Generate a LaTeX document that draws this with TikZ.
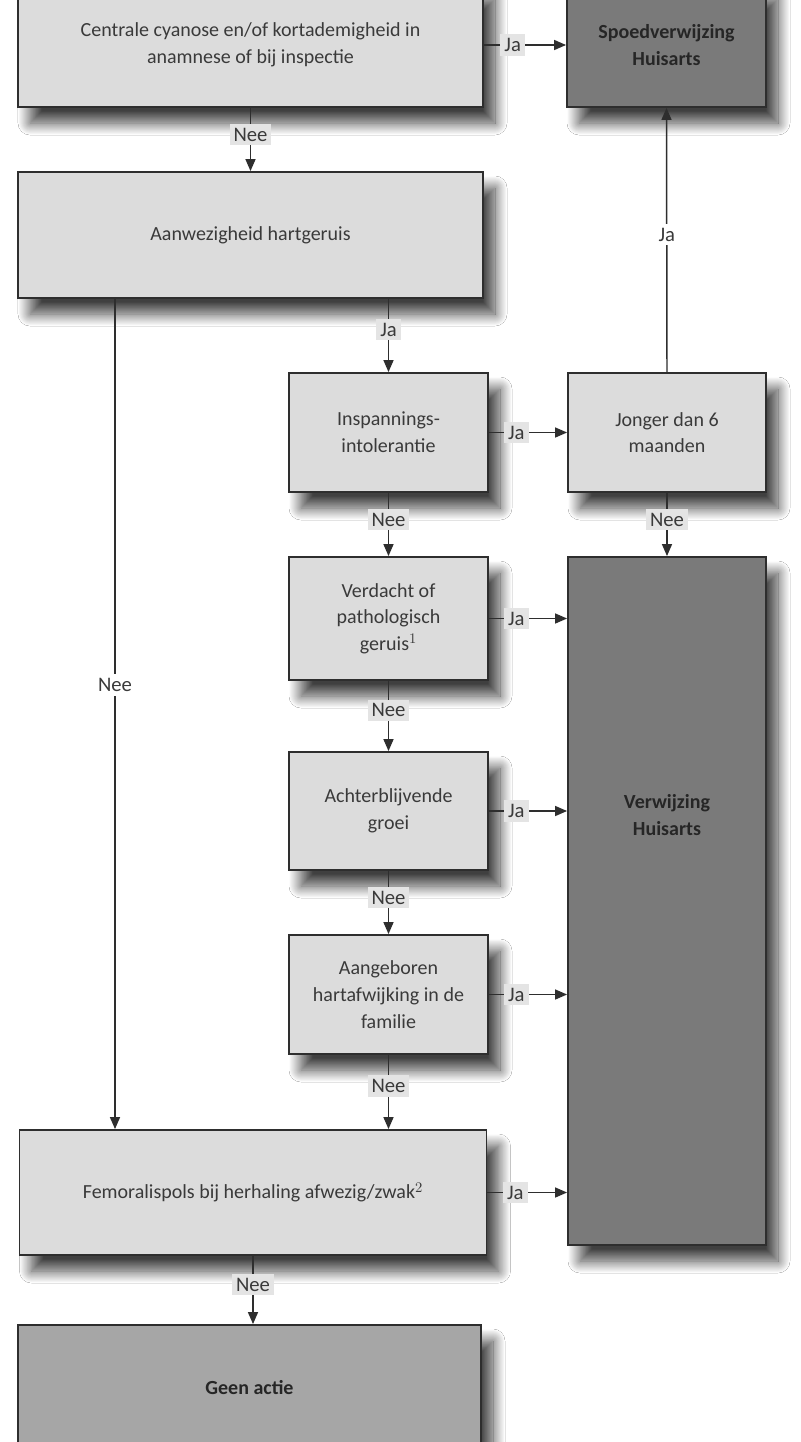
\documentclass[tikz,border=0pt]{standalone}
\usepackage{fontspec}
\setmainfont{Carlito}
\usepackage{xcolor}
\definecolor{boxlight}{HTML}{DCDCDC}
\definecolor{boxdark}{HTML}{7A7A7A}
\definecolor{boxmid}{HTML}{A6A6A6}
\definecolor{linegray}{HTML}{2E2E2E}
\definecolor{textgray}{HTML}{3A3A3A}
\definecolor{labelbg}{HTML}{E4E4E4}
\usetikzlibrary{arrows.meta,shadows.blur}
\tikzset{
  flowbox/.style={
    rectangle, draw=linegray, line width=1.4pt, align=center,
    text=textgray, font=\fontsize{15}{20}\selectfont,
    blur shadow={shadow xshift=9pt, shadow yshift=-12pt,
      shadow blur radius=9pt, shadow blur steps=20,
      shadow blur extra rounding=0pt, shadow opacity=75}
  },
  questbox/.style={flowbox, fill=boxlight},
  referbox/.style={flowbox, fill=boxdark, text=black!85,
    font=\bfseries\fontsize{15}{20}\selectfont},
  endbox/.style={flowbox, fill=boxmid, text=black!85,
    font=\bfseries\fontsize{15}{20}\selectfont},
  answer/.style={fill=labelbg, text=textgray, inner sep=3pt,
    font=\fontsize{15.5}{17}\selectfont},
  plainanswer/.style={answer, fill=white},
  arrow/.style={-{Triangle[length=9pt,width=7.5pt]}, line width=1.1pt, draw=linegray}
}

\begin{document}
\begin{tikzpicture}[x=0.75pt,y=-0.75pt]

  \clip (0,0) rectangle (800,1442);
  \fill[white] (0,0) rectangle (800,1442);

  % Left column
  \node[questbox, minimum width=348.75pt, minimum height=93pt] (cyanose) at (250.5,45)
  {Centrale cyanose en/of kortademigheid in\\ anamnese of bij inspectie};

  \node[questbox, minimum width=348.75pt, minimum height=94.5pt] (hartgeruis) at (250.5,235)
  {Aanwezigheid hartgeruis};

  \node[questbox, minimum width=350.25pt, minimum height=93.75pt] (femoralis) at (253,1192.5)
  {Femoralispols bij herhaling afwezig/zwak$^{2}$};

  \node[endbox, minimum width=347.25pt, minimum height=94.5pt] (geenactie) at (249.5,1388)
  {Geen actie};

  % Middle column
  \node[questbox, minimum width=149.25pt, minimum height=89.25pt] (inspanning) at (388.5,432.5)
  {Inspannings-\\ intolerantie};

  \node[questbox, minimum width=149.25pt, minimum height=92.25pt] (verdacht) at (388.5,618.5)
  {Verdacht of\\ pathologisch\\ geruis$^{1}$};

  \node[questbox, minimum width=149.25pt, minimum height=88.5pt] (groei) at (388.5,811)
  {Achterblijvende\\ groei};

  \node[questbox, minimum width=149.25pt, minimum height=89.25pt] (familie) at (388.5,994.5)
  {Aangeboren\\ hartafwijking in de\\ familie};

  % Right column
  \node[referbox, minimum width=149.25pt, minimum height=93pt] (spoed) at (666.5,45)
  {Spoedverwijzing\\ Huisarts};

  \node[questbox, minimum width=148.5pt, minimum height=89.25pt] (jonger) at (667,432.5)
  {Jonger dan 6\\ maanden};

  \node[referbox, minimum width=148.5pt, minimum height=516pt] (verwijzing) at (667,901) {};
  \node[font=\bfseries\fontsize{15}{20}\selectfont, text=black!85, align=center] (verwtext) at (667,815)
  {Verwijzing\\ Huisarts};

  \coordinate (leftrail) at (115,0);

  % Edges
  \draw[arrow] (cyanose.east) -- node[answer, pos=0.35] {Ja} (spoed.west);
  \draw[arrow] (cyanose.south) -- node[answer, pos=0.42] {Nee} (hartgeruis.north);
  \draw[arrow] (hartgeruis.south -| inspanning.north) -- node[answer, pos=0.42] {Ja} (inspanning.north);
  \draw[arrow] (hartgeruis.south -| leftrail) -- node[plainanswer, pos=0.465] {Nee} (femoralis.north -| leftrail);

  \draw[arrow] (inspanning.east) -- node[answer, pos=0.35] {Ja} (jonger.west);
  \draw[arrow] (jonger.north) -- node[plainanswer, pos=0.52] {Ja} (spoed.south);
  \draw[arrow] (jonger.south) -- node[answer, pos=0.42] {Nee} (verwijzing.north);

  \draw[arrow] (inspanning.south) -- node[answer, pos=0.42] {Nee} (verdacht.north);
  \draw[arrow] (verdacht.south) -- node[answer, pos=0.42] {Nee} (groei.north);
  \draw[arrow] (groei.south) -- node[answer, pos=0.42] {Nee} (familie.north);
  \draw[arrow] (familie.south) -- node[answer, pos=0.42] {Nee} (familie.south |- femoralis.north);

  \draw[arrow] (verdacht.east) -- node[answer, pos=0.35] {Ja} (verdacht.east -| verwijzing.west);
  \draw[arrow] (groei.east) -- node[answer, pos=0.35] {Ja} (groei.east -| verwijzing.west);
  \draw[arrow] (familie.east) -- node[answer, pos=0.35] {Ja} (familie.east -| verwijzing.west);
  \draw[arrow] (femoralis.east) -- node[answer, pos=0.35] {Ja} (femoralis.east -| verwijzing.west);

  \draw[arrow] (femoralis.south) -- node[answer, pos=0.42] {Nee} (femoralis.south |- geenactie.north);

\end{tikzpicture}
\end{document}
